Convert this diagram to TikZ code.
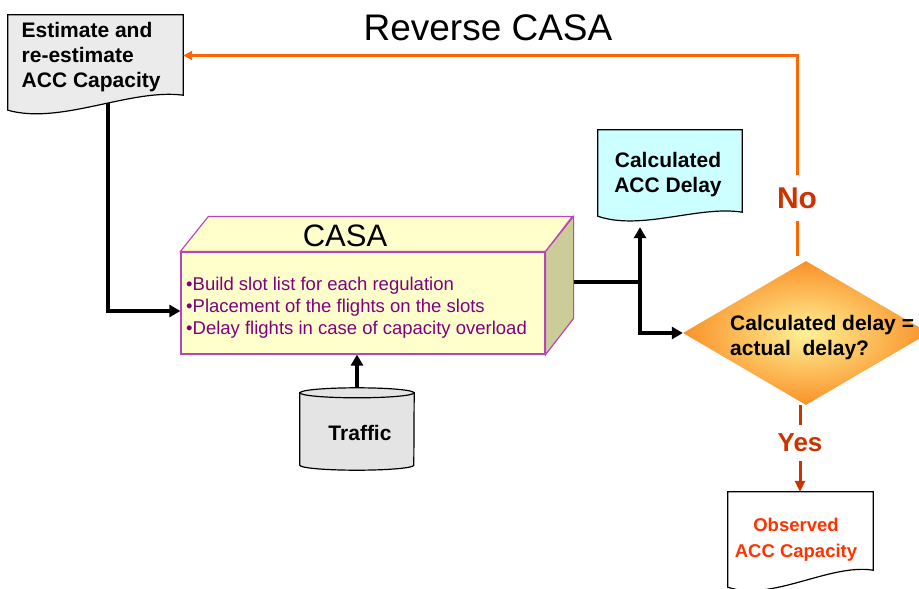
\documentclass[tikz,border=0pt]{standalone}
\usepackage{fontspec}
\setmainfont{Liberation Sans}
\usetikzlibrary{calc,arrows.meta,shapes.geometric}
\definecolor{estgray}{RGB}{235,235,235}
\definecolor{casafill}{RGB}{255,255,204}
\definecolor{casaside}{RGB}{204,204,153}
\definecolor{casaedge}{RGB}{185,70,185}
\definecolor{casapurple}{RGB}{128,0,128}
\definecolor{calccyan}{RGB}{204,255,255}
\definecolor{trafgray}{RGB}{228,228,228}
\definecolor{noorange}{RGB}{255,102,0}
\definecolor{labelred}{RGB}{204,51,0}
\definecolor{obsred}{RGB}{255,51,0}
\definecolor{decin}{RGB}{255,242,150}
\definecolor{decout}{RGB}{250,145,40}
\def\wavedoc[#1](#2)(#3){\draw[#1] (#2.north west) -- (#2.north east) -- ($(#2.south east)+(0,-#3)$) .. controls ($(#2.south)!0.4!(#2.south east)+(0,-#3-7)$) and ($(#2.south)!0.4!(#2.south west)+(0,15)$) .. (#2.south west) -- cycle;}
\tikzset{
	docnode/.style={rectangle, inner sep=0pt},
	docline/.style={draw=black, line width=1.2pt},
	boldtxt/.style={font=\fontsize{21}{25}\selectfont\bfseries, inner sep=0pt},
	flow/.style={line width=4pt, -{Triangle[length=11pt,width=12pt]}},
	noline/.style={draw=noorange, line width=3pt},
	yesline/.style={draw=labelred, line width=3pt}
}

\begin{document}
\begin{tikzpicture}[x=1pt, y=-1pt]
		%%%%% START %%%%%
		\useasboundingbox (0,0) rectangle (919,589);
		
		\node[font=\fontsize{37}{37}\selectfont] (title) at (488,28) {Reverse CASA};
		
		\node[docnode, minimum width=175pt, minimum height=95pt] (est) at (95.5,62.5) {};
		\wavedoc[docline, fill=estgray](est)(15)
		\node[boldtxt, anchor=west, align=left] (esttxt) at (21.5,57) {Estimate and\\re-estimate\\ACC Capacity};
		
		\node[docnode, draw=casaedge, line width=1.2pt, fill=casafill, minimum width=364pt, minimum height=102pt] (casa) at (363,303) {};
		\draw[draw=casaedge, line width=1.2pt, fill=casafill] (casa.north west) -- ++(28,-35) -- ++(364,0) -- (casa.north east) -- cycle;
		\draw[draw=casaedge, line width=1.2pt, fill=casaside] (casa.north east) -- ++(28,-35) -- ++(0,102) -- (casa.south east) -- cycle;
		\node[font=\fontsize{31}{31}\selectfont] (casatitle) at (345,236) {CASA};
		\node[font=\fontsize{18.5}{22}\selectfont, text=casapurple, inner sep=0pt, anchor=west, align=left] (casatxt) at (186,308) {\textbullet Build slot list for each regulation\\\textbullet Placement of the flights on the slots\\\textbullet Delay flights in case of capacity overload};
		
		\node[docnode, minimum width=114pt, minimum height=72pt] (traffic) at (357,429) {};
		\draw[docline, fill=trafgray] (traffic.north west) -- (traffic.south west) arc[start angle=180, end angle=360, x radius=57pt, y radius=5pt] -- (traffic.north east) -- cycle;
		\draw[docline, fill=trafgray] (traffic.north) ellipse [x radius=57pt, y radius=5pt];
		\node[boldtxt] (traffictxt) at (360,433) {Traffic};
		
		\node[docnode, minimum width=144pt, minimum height=86pt] (calc) at (670,173) {};
		\wavedoc[docline, fill=calccyan](calc)(4)
		\node[boldtxt, align=center] (calctxt) at (668,174.5) {Calculated\\ACC Delay};
		
		\node[diamond, inner sep=0pt, minimum width=246pt, minimum height=144pt, shade, inner color=decin, outer color=decout] (dec) at (806,333) {};
		\node[boldtxt, anchor=west, align=left] (dectxt) at (730,338) {Calculated delay =\\actual\ \ delay?};
		
		\node[docnode, minimum width=145pt, minimum height=95pt] (obs) at (800.5,539.5) {};
		\wavedoc[docline, fill=white](obs)(17)
		\node[font=\fontsize{18.5}{26}\selectfont\bfseries, text=obsred, inner sep=0pt, align=center] (obstxt) at (796,539.5) {Observed\\ACC Capacity};
		
		\node[font=\fontsize{30}{30}\selectfont\bfseries, text=labelred, inner xsep=2pt, inner ysep=12pt] (no) at (797,198) {No};
		\node[font=\fontsize{26}{26}\selectfont\bfseries, text=labelred, inner xsep=2pt, inner ysep=9pt] (yes) at (800,443) {Yes};
		
		\draw[flow] ($(est.south)+(12,-7)$) |- ($(casa.west)+(0,8)$);
		\draw[flow] ($(traffic.north)+(0,-5)$) -- (traffic.north |- casa.south);
		\coordinate (casaout) at ($(casa.east)+(28,-21)$);
		\coordinate (split) at ($(calc.south |- casaout)+(-30,0)$);
		\draw[flow] (casaout) -| ($(split |- calc.south)+(0,11)$);
		\draw[flow] (split) |- (dec.west);
		
		\draw[noline] ($(dec.north)+(-9,-5)$) -- (no);
		\draw[noline, -{Triangle[length=9pt,width=9pt]}] (no) |- ($(est.east)+(0,-7)$);
		\draw[yesline] (dec.south -| yes) -- (yes);
		\draw[yesline, -{Triangle[length=11pt,width=10pt]}] (yes) -- (yes |- obs.north);
		%%%%% END %%%%%
	\end{tikzpicture}
\end{document}
